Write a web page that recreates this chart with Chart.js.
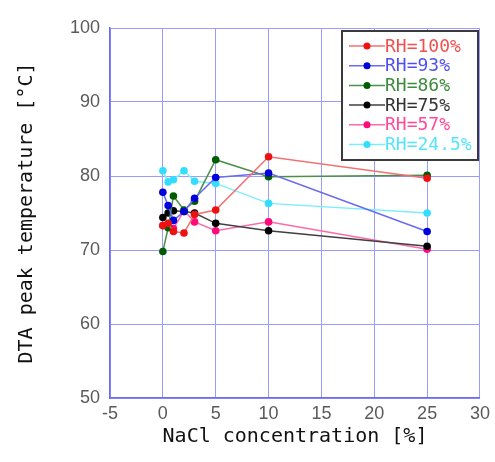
<!DOCTYPE html>
<html>
<head>
<meta charset="utf-8">
<script src="https://cdn.jsdelivr.net/npm/chart.js@4.4.1/dist/chart.umd.min.js"></script>
<style>
  html, body { margin: 0; padding: 0; background: #fff; }
  #wrap { width: 495px; height: 462px; position: relative; }
</style>
</head>
<body>
<div id="wrap"><canvas id="myChart"></canvas></div>
<script>
// NaCl concentration [%] for each series
var concFull = [0, 0.5, 1, 2, 3, 5, 10, 25];

// DTA peak temperature [°C]
var rh100 = [73.3, 73.6, 72.5, 72.3, 74.8, 75.4, 82.6, 79.7];
var rh93 = [77.8, 76.0, 74.0, 75.2, 77.0, 79.8, 80.4, 72.5];
var rh86 = [69.8, 73.0, 77.3, 75.4, 76.6, 82.2, 79.9, 80.1];
var rh75 = [74.4, 75.0, 75.3, 75.2, 75.0, 73.6, 72.6, 70.5];
var rh57 = [73.3, 73.2, 72.9, 75.3, 73.8, 72.6, 73.8, 70.1];
var rh245 = [80.7, 79.2, 79.5, 80.7, 79.3, 79.0, 76.3, 75.0];

var seriesNames = ['RH=100%', 'RH=93%', 'RH=86%', 'RH=75%', 'RH=57%', 'RH=24.5%'];
var seriesValues = [rh100, rh93, rh86, rh75, rh57, rh245];
var pointColors = ['#ee1111', '#0000dd', '#005c00', '#000000', '#ff0a78', '#33ddff'];
var lineColors = ['#f27070', '#6a6af0', '#4a8f4a', '#404040', '#ff6aa8', '#7aeeff'];
var textColors = ['#f05050', '#5050f0', '#3c8c3c', '#333333', '#ff4a98', '#55e4ff'];

var xTicks = [-5, 0, 5, 10, 15, 20, 25, 30];
var yTicks = [50, 60, 70, 80, 90, 100];

var monoFont = '"DejaVu Sans Mono", "Liberation Mono", monospace';
var tickFont = '"Liberation Sans Narrow", "Liberation Sans", Arial, sans-serif';

function toPoints(vals) {
  var pts = [];
  for (var i = 0; i < vals.length; i++) {
    pts.push({ x: concFull[i], y: vals[i] });
  }
  return pts;
}

var datasets = [];
for (var i = 0; i < seriesNames.length; i++) {
  datasets.push({
    label: seriesNames[i],
    data: toPoints(seriesValues[i]),
    borderColor: lineColors[i],
    backgroundColor: pointColors[i],
    pointBackgroundColor: pointColors[i],
    pointBorderColor: pointColors[i],
    borderWidth: 1.5,
    pointRadius: 3.8,
    pointBorderWidth: 0,
    tension: 0
  });
}

// legend box drawn inside the plot, line + dot + coloured text
var boxLegend = {
  id: 'boxLegend',
  afterDatasetsDraw: function(chart) {
    var ctx = chart.ctx;
    var x0 = 342, y0 = 31, w = 136, h = 129;
    ctx.save();
    ctx.fillStyle = '#fff';
    ctx.fillRect(x0, y0, w, h);
    ctx.strokeStyle = '#3a3a3a';
    ctx.lineWidth = 2;
    ctx.strokeRect(x0, y0, w, h);
    ctx.font = '18px ' + monoFont;
    ctx.textBaseline = 'middle';
    for (var i = 0; i < seriesNames.length; i++) {
      var y = 46 + i * 19.7;
      ctx.strokeStyle = lineColors[i];
      ctx.lineWidth = 1.5;
      ctx.beginPath();
      ctx.moveTo(349, y);
      ctx.lineTo(385, y);
      ctx.stroke();
      ctx.fillStyle = pointColors[i];
      ctx.beginPath();
      ctx.arc(367, y, 3.5, 0, Math.PI * 2);
      ctx.fill();
      ctx.fillStyle = textColors[i];
      ctx.fillText(seriesNames[i], 385, y + 1);
    }
    ctx.restore();
  }
};

var config = {
  type: 'line',
  data: { datasets: datasets },
  options: {
    responsive: true,
    maintainAspectRatio: false,
    animation: false,
    layout: { padding: { left: 0, top: 28, right: 15, bottom: 0 } },
    plugins: {
      legend: { display: false },
      tooltip: { enabled: false }
    },
    scales: {
      x: {
        type: 'linear',
        min: -5,
        max: 30,
        afterBuildTicks: function(scale) {
          scale.ticks = xTicks.map(function(v) { return { value: v }; });
        },
        afterFit: function(scale) { scale.height = 64; },
        grid: { color: '#9c9cff', lineWidth: 1, drawTicks: false },
        border: { color: '#6a6af5', width: 1.5 },
        ticks: {
          padding: 5,
          color: '#5a5a5a',
          font: { family: tickFont, size: 18 }
        },
        title: {
          display: true,
          text: 'NaCl concentration [%]',
          color: '#111',
          font: { family: monoFont, size: 20 },
          padding: { top: 0, bottom: 13 }
        }
      },
      y: {
        min: 50,
        max: 100,
        afterBuildTicks: function(scale) {
          scale.ticks = yTicks.map(function(v) { return { value: v }; });
        },
        afterFit: function(scale) { scale.width = 110; },
        grid: { color: '#9c9cff', lineWidth: 1, drawTicks: false },
        border: { color: '#6a6af5', width: 1.5 },
        ticks: {
          padding: 10,
          color: '#5a5a5a',
          font: { family: tickFont, size: 18 }
        },
        title: {
          display: true,
          text: 'DTA peak temperature [°C]',
          color: '#111',
          font: { family: monoFont, size: 20 },
          padding: { top: 15, bottom: 0 }
        }
      }
    }
  },
  plugins: [boxLegend]
};

var myChart = new Chart(document.getElementById('myChart'), config);
</script>
</body>
</html>
